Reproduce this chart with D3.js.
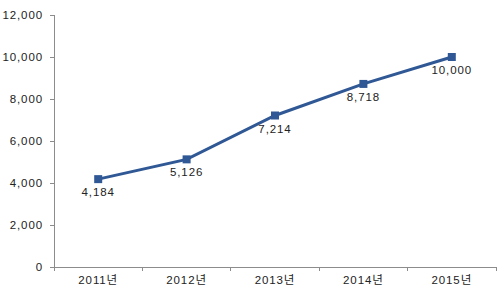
<!DOCTYPE html>
<html><head><meta charset="utf-8">
<script src="https://cdn.jsdelivr.net/npm/d3@7"></script>
<style>body{margin:0;background:#fff}svg{display:block}text{font-family:"Liberation Sans","Noto Sans CJK KR",sans-serif;font-size:11.5px;fill:#222;letter-spacing:0.9px}</style>
</head><body><svg width="500" height="294"></svg>
<script>
const categories = ["2011년","2012년","2013년","2014년","2015년"];
const values = [4184,5126,7214,8718,10000];
const yTicks = [0,2000,4000,6000,8000,10000,12000];

const svg = d3.select("svg");
const m = {left:54, right:4, top:15, bottom:27};
const W = 500, H = 294;
const x = d3.scaleBand().domain(categories).range([m.left, W-m.right]);
const y = d3.scaleLinear().domain([0,12000]).range([H-m.bottom, m.top]);
const fmt = d3.format(",");
const axisColor = "#8c8c8c";
const FONT = '"Liberation Sans","Noto Sans CJK KR",sans-serif';

const ya = svg.append("g").attr("transform",`translate(${m.left},0)`)
  .call(d3.axisLeft(y).tickValues(yTicks).tickFormat(fmt).tickSize(4).tickPadding(7));
const xa = svg.append("g").attr("transform",`translate(0,${H-m.bottom})`)
  .call(d3.axisBottom(x).tickSize(0).tickPadding(9));
[ya,xa].forEach(g=>{g.selectAll("path,line").attr("stroke",axisColor).attr("shape-rendering","crispEdges");});
ya.select(".domain").attr("d",`M0,${m.top}V${H-m.bottom}`);
xa.select(".domain").attr("d",`M${m.left},0H${W-m.right}`);
xa.selectAll(".sep").data(d3.range(categories.length+1)).enter().append("line")
  .attr("x1",i=>m.left+i*x.step()).attr("x2",i=>m.left+i*x.step())
  .attr("y1",0).attr("y2",4).attr("stroke",axisColor).attr("shape-rendering","crispEdges");
svg.selectAll(".tick text").style("font-family",FONT).style("font-size","11.5px").attr("fill","#222");

const cx = d=>x(d)+x.bandwidth()/2;
const line = d3.line().x((d,i)=>cx(categories[i])).y(d=>y(d));
svg.append("path").datum(values).attr("d",line).attr("fill","none")
  .attr("stroke","#2f5895").attr("stroke-width",3);
svg.selectAll(".mk").data(values).enter().append("rect")
  .attr("x",(d,i)=>cx(categories[i])-4).attr("y",d=>y(d)-4)
  .attr("width",8).attr("height",8).attr("fill","#2f5895");
svg.selectAll(".lbl").data(values).enter().append("text")
  .attr("x",(d,i)=>cx(categories[i])).attr("y",d=>y(d)+17)
  .attr("text-anchor","middle").text(d=>fmt(d));
</script></body></html>
